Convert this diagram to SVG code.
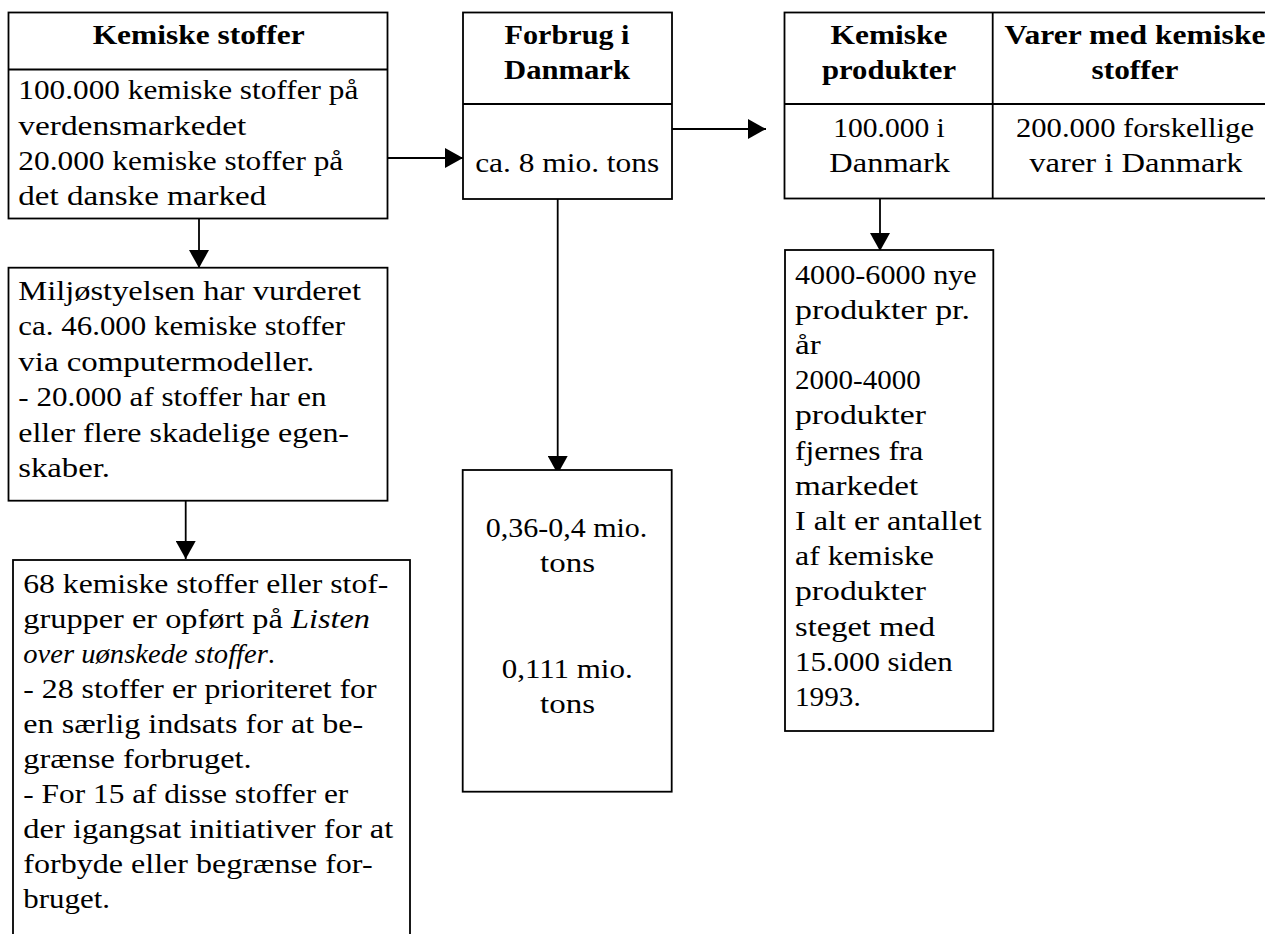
<svg xmlns="http://www.w3.org/2000/svg" width="1265" height="934" viewBox="0 0 1265 934">
<style>
  .box { fill: #ffffff; stroke: #000000; stroke-width: 1.8; }
  .div { stroke: #000000; stroke-width: 1.8; fill: none; }
  .t { font-size: 27px; fill: #000000; }
  .b { font-weight: bold; }
  .c { text-anchor: middle; }
  .i { font-style: italic; }
  .conn { stroke: #000000; stroke-width: 1.8; fill: none; marker-end: url(#arrow); }
</style>
<defs>
  <marker id="arrow" viewBox="0 0 18 20" refX="18" refY="10" markerWidth="18" markerHeight="20" markerUnits="userSpaceOnUse" orient="auto">
    <path d="M0,0 L18,10 L0,20 Z" fill="#000000"/>
  </marker>
</defs>
<rect width="1265" height="934" fill="#ffffff"/>

<g id="connectors">
  <path class="conn" d="M388,158 H463"/>
  <path class="conn" d="M672,129 H766"/>
  <path class="conn" d="M199,213 V268"/>
  <path class="conn" d="M185.7,501 V559"/>
  <path class="conn" d="M557.7,195 V474"/>
  <path class="conn" d="M880,195 V251"/>
</g>

<g font-family="Liberation Serif, Times New Roman, serif">
<g id="kemiske-stoffer">
  <rect class="box" x="8.5" y="12.5" width="379" height="206"/>
  <line class="div" x1="8.5" y1="69.5" x2="387.5" y2="69.5"/>
  <text class="t b c" x="198.7" y="44.3" textLength="212" lengthAdjust="spacingAndGlyphs">Kemiske stoffer</text>
  <text class="t" x="18.3" y="99.3" textLength="340" lengthAdjust="spacingAndGlyphs">100.000 kemiske stoffer på</text>
  <text class="t" x="18.3" y="134.5" textLength="228" lengthAdjust="spacingAndGlyphs">verdensmarkedet</text>
  <text class="t" x="18.3" y="169.7" textLength="325" lengthAdjust="spacingAndGlyphs">20.000 kemiske stoffer på</text>
  <text class="t" x="18.3" y="204.9" textLength="248" lengthAdjust="spacingAndGlyphs">det danske marked</text>
</g>

<g id="forbrug">
  <rect class="box" x="463" y="12.5" width="209" height="186.5"/>
  <line class="div" x1="463" y1="104" x2="672" y2="104"/>
  <text class="t b c" x="567" y="44.3" textLength="125" lengthAdjust="spacingAndGlyphs">Forbrug i</text>
  <text class="t b c" x="567" y="79" textLength="126" lengthAdjust="spacingAndGlyphs">Danmark</text>
  <text class="t c" x="567.2" y="171.7" textLength="184" lengthAdjust="spacingAndGlyphs">ca. 8 mio. tons</text>
</g>

<g id="produkter-varer">
  <rect class="box" x="784.5" y="12.5" width="500" height="186"/>
  <line class="div" x1="784.5" y1="104" x2="1284.5" y2="104"/>
  <line class="div" x1="992.7" y1="12.5" x2="992.7" y2="198.5"/>
  <text class="t b c" x="889" y="44.3" textLength="117" lengthAdjust="spacingAndGlyphs">Kemiske</text>
  <text class="t b c" x="889" y="79" textLength="134" lengthAdjust="spacingAndGlyphs">produkter</text>
  <text class="t c" x="889" y="136.7" textLength="111.7" lengthAdjust="spacingAndGlyphs">100.000 i</text>
  <text class="t c" x="889.7" y="171.7" textLength="120.7" lengthAdjust="spacingAndGlyphs">Danmark</text>
  <text class="t b c" x="1135" y="44.3" textLength="261" lengthAdjust="spacingAndGlyphs">Varer med kemiske</text>
  <text class="t b c" x="1135" y="79" textLength="87" lengthAdjust="spacingAndGlyphs">stoffer</text>
  <text class="t c" x="1135" y="136.7" textLength="238" lengthAdjust="spacingAndGlyphs">200.000 forskellige</text>
  <text class="t c" x="1136" y="171.7" textLength="213.3" lengthAdjust="spacingAndGlyphs">varer i Danmark</text>
</g>

<g id="nye-produkter">
  <rect class="box" x="785" y="250" width="208.3" height="481"/>
  <text class="t" x="795" y="283.6" textLength="181.7" lengthAdjust="spacingAndGlyphs">4000-6000 nye</text>
  <text class="t" x="795" y="318.8" textLength="175" lengthAdjust="spacingAndGlyphs">produkter pr.</text>
  <text class="t" x="795" y="354" textLength="25.7" lengthAdjust="spacingAndGlyphs">år</text>
  <text class="t" x="795" y="389.2" textLength="125.7" lengthAdjust="spacingAndGlyphs">2000-4000</text>
  <text class="t" x="795" y="424.4" textLength="131" lengthAdjust="spacingAndGlyphs">produkter</text>
  <text class="t" x="795" y="459.6" textLength="128.3" lengthAdjust="spacingAndGlyphs">fjernes fra</text>
  <text class="t" x="795" y="494.8" textLength="123.3" lengthAdjust="spacingAndGlyphs">markedet</text>
  <text class="t" x="795" y="530" textLength="186.7" lengthAdjust="spacingAndGlyphs">I alt er antallet</text>
  <text class="t" x="795" y="565.2" textLength="139" lengthAdjust="spacingAndGlyphs">af kemiske</text>
  <text class="t" x="795" y="600.4" textLength="131" lengthAdjust="spacingAndGlyphs">produkter</text>
  <text class="t" x="795" y="635.6" textLength="140" lengthAdjust="spacingAndGlyphs">steget med</text>
  <text class="t" x="795" y="670.8" textLength="157.7" lengthAdjust="spacingAndGlyphs">15.000 siden</text>
  <text class="t" x="795" y="706" textLength="65.7" lengthAdjust="spacingAndGlyphs">1993.</text>
</g>

<g id="miljostyrelsen">
  <rect class="box" x="8.5" y="267.7" width="379" height="233"/>
  <text class="t" x="18.3" y="300" textLength="342.7" lengthAdjust="spacingAndGlyphs">Miljøstyelsen har vurderet</text>
  <text class="t" x="18.3" y="335.4" textLength="326.7" lengthAdjust="spacingAndGlyphs">ca. 46.000 kemiske stoffer</text>
  <text class="t" x="18.3" y="370.8" textLength="296" lengthAdjust="spacingAndGlyphs">via computermodeller.</text>
  <text class="t" x="18.3" y="406.2" textLength="308.3" lengthAdjust="spacingAndGlyphs">- 20.000 af stoffer har en</text>
  <text class="t" x="18.3" y="441.6" textLength="330.7" lengthAdjust="spacingAndGlyphs">eller flere skadelige egen-</text>
  <text class="t" x="18.3" y="477" textLength="91.7" lengthAdjust="spacingAndGlyphs">skaber.</text>
</g>

<g id="uonskede-stoffer">
  <rect class="box" x="13" y="560" width="397" height="400"/>
  <text class="t" x="23.3" y="593.3" textLength="365" lengthAdjust="spacingAndGlyphs">68 kemiske stoffer eller stof-</text>
  <text class="t" x="23.3" y="628.3" textLength="346.7" lengthAdjust="spacingAndGlyphs">grupper er opført på <tspan class="i">Listen</tspan></text>
  <text class="t" x="23.3" y="663.3" textLength="251.7" lengthAdjust="spacingAndGlyphs"><tspan class="i">over uønskede stoffer</tspan>.</text>
  <text class="t" x="23.3" y="698.3" textLength="353.3" lengthAdjust="spacingAndGlyphs">- 28 stoffer er prioriteret for</text>
  <text class="t" x="23.3" y="733.3" textLength="340" lengthAdjust="spacingAndGlyphs">en særlig indsats for at be-</text>
  <text class="t" x="23.3" y="768.3" textLength="228.3" lengthAdjust="spacingAndGlyphs">grænse forbruget.</text>
  <text class="t" x="23.3" y="803.3" textLength="325" lengthAdjust="spacingAndGlyphs">- For 15 af disse stoffer er</text>
  <text class="t" x="23.3" y="838.3" textLength="370" lengthAdjust="spacingAndGlyphs">der igangsat initiativer for at</text>
  <text class="t" x="23.3" y="873.3" textLength="349.3" lengthAdjust="spacingAndGlyphs">forbyde eller begrænse for-</text>
  <text class="t" x="23.3" y="908.3" textLength="86.7" lengthAdjust="spacingAndGlyphs">bruget.</text>
</g>

<g id="mio-tons">
  <rect class="box" x="462.7" y="470" width="209" height="321.7"/>
  <text class="t c" x="566.5" y="536.7" textLength="161.6" lengthAdjust="spacingAndGlyphs">0,36-0,4 mio.</text>
  <text class="t c" x="567.5" y="571.7" textLength="55" lengthAdjust="spacingAndGlyphs">tons</text>
  <text class="t c" x="567.2" y="678.3" textLength="131" lengthAdjust="spacingAndGlyphs">0,111 mio.</text>
  <text class="t c" x="567.5" y="713.3" textLength="55" lengthAdjust="spacingAndGlyphs">tons</text>
</g>
</g>
</svg>
